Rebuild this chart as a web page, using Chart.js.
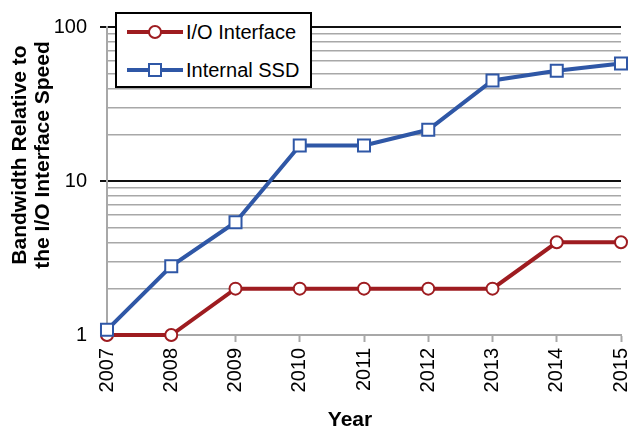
<!DOCTYPE html>
<html>
<head>
<meta charset="utf-8">
<script src="https://cdn.jsdelivr.net/npm/chart.js@4"></script>
<style>
    body { margin: 0; background: #fff; }
    #wrap { position: relative; width: 633px; height: 431px; }
    #legend {
        position: absolute; left: 115px; top: 12px;
        width: 193px; height: 72px;
        border: 2px solid #000; background: #fff;
        font-family: "Liberation Sans", Arial, sans-serif; font-size: 20px; color: #000;
    }
    .row { position: absolute; left: 10px; height: 24px; display: flex; align-items: center; }
    .row svg { margin-right: 3px; }
</style>
</head>
<body>
<div id="wrap">
    <canvas id="chart" width="633" height="431"></canvas>
    <div id="legend"></div>
</div>
<script>
const years = ["2007", "2008", "2009", "2010", "2011", "2012", "2013", "2014", "2015"];
const ioInterface = [1, 1, 2, 2, 2, 2, 2, 4, 4];
const internalSsd = [1.08, 2.8, 5.4, 17, 17, 21.5, 45, 52, 58];

// gridline values on the log axis, labels only on the decades
const yGrid = [1, 2, 3, 4, 5, 6, 7, 8, 9, 10, 20, 30, 40, 50, 60, 70, 80, 90, 100];
const yLabels = [1, 10, 100];

const red = "#9e1c20";
const blue = "#2f57a6";
const gray = "#a8a8a8";
const font = "'Liberation Sans', Arial, sans-serif";

// axis titles placed where the original has them
const axisTitles = {
    id: "axisTitles",
    afterDraw(chart) {
        let ctx = chart.ctx;
        ctx.save();
        ctx.fillStyle = "#000";
        ctx.font = "bold 21px " + font;
        ctx.textAlign = "center";
        ctx.textBaseline = "middle";
        ctx.fillText("Year", 350, 420);
        ctx.translate(0, 155);
        ctx.rotate(-Math.PI / 2);
        ctx.fillText("Bandwidth Relative to", 0, 20);
        ctx.fillText("the I/O Interface Speed", 0, 43);
        ctx.restore();
    }
};

new Chart(document.getElementById("chart"), {
    type: "line",
    data: {
        labels: years,
        datasets: [
            {
                label: "I/O Interface",
                data: ioInterface,
                borderColor: red,
                borderWidth: 4,
                pointStyle: "circle",
                pointRadius: 6,
                pointBorderWidth: 2,
                pointBackgroundColor: "#fff",
                pointBorderColor: red,
                clip: false,
                order: 1
            },
            {
                label: "Internal SSD",
                data: internalSsd,
                borderColor: blue,
                borderWidth: 4,
                pointStyle: "rect",
                pointRadius: 8.5,
                pointBorderWidth: 2,
                pointBackgroundColor: "#fff",
                pointBorderColor: blue,
                clip: false,
                order: 0
            }
        ]
    },
    options: {
        responsive: false,
        animation: false,
        layout: { padding: { top: 27, right: 12, left: 0, bottom: 0 } },
        plugins: { legend: { display: false }, tooltip: { enabled: false } },
        scales: {
            x: {
                type: "category",
                offset: false,
                afterFit: (s) => { s.height = 96; s.paddingLeft = 0; s.paddingRight = 0; },
                border: { color: gray, width: 2 },
                grid: { drawOnChartArea: false, drawTicks: true, tickLength: 7, tickColor: gray, tickWidth: 2 },
                ticks: {
                    autoSkip: false, minRotation: 90, maxRotation: 90, padding: 6,
                    color: "#000", font: { family: font, size: 20 }
                }
            },
            y: {
                type: "logarithmic",
                min: 1,
                max: 100,
                afterFit: (s) => { s.width = 107; },
                afterBuildTicks: (s) => { s.ticks = yGrid.map(v => ({ value: v })); },
                border: { color: gray, width: 2 },
                grid: {
                    color: (c) => (c.tick && (c.tick.value === 10 || c.tick.value === 100)) ? "#111" : gray,
                    lineWidth: (c) => (c.tick && (c.tick.value === 10 || c.tick.value === 100)) ? 2 : 1.5,
                    tickLength: 7,
                    tickColor: (c) => (c.tick && yLabels.includes(c.tick.value)) ? (c.tick.value === 1 ? gray : "#111") : "rgba(0,0,0,0)",
                    tickWidth: 2
                },
                ticks: {
                    autoSkip: false, padding: 13, color: "#000",
                    font: { family: font, size: 20 },
                    callback: (v) => yLabels.includes(v) ? String(v) : ""
                }
            }
        }
    },
    plugins: [axisTitles]
});

// legend box drawn as html to get the framed look
function legendRow(text, color, marker, top) {
    let shape = marker === "circle"
        ? `<circle cx="28" cy="10" r="6" fill="#fff" stroke="${color}" stroke-width="2"/>`
        : `<rect x="22" y="4" width="12" height="12" fill="#fff" stroke="${color}" stroke-width="2"/>`;
    return `<div class="row" style="top:${top}px">
        <svg width="56" height="20"><line x1="0" y1="10" x2="56" y2="10" stroke="${color}" stroke-width="4"/>${shape}</svg>
        <span>${text}</span></div>`;
}
document.getElementById("legend").innerHTML =
    legendRow("I/O Interface", red, "circle", 6) + legendRow("Internal SSD", blue, "rect", 44);
</script>
</body>
</html>
